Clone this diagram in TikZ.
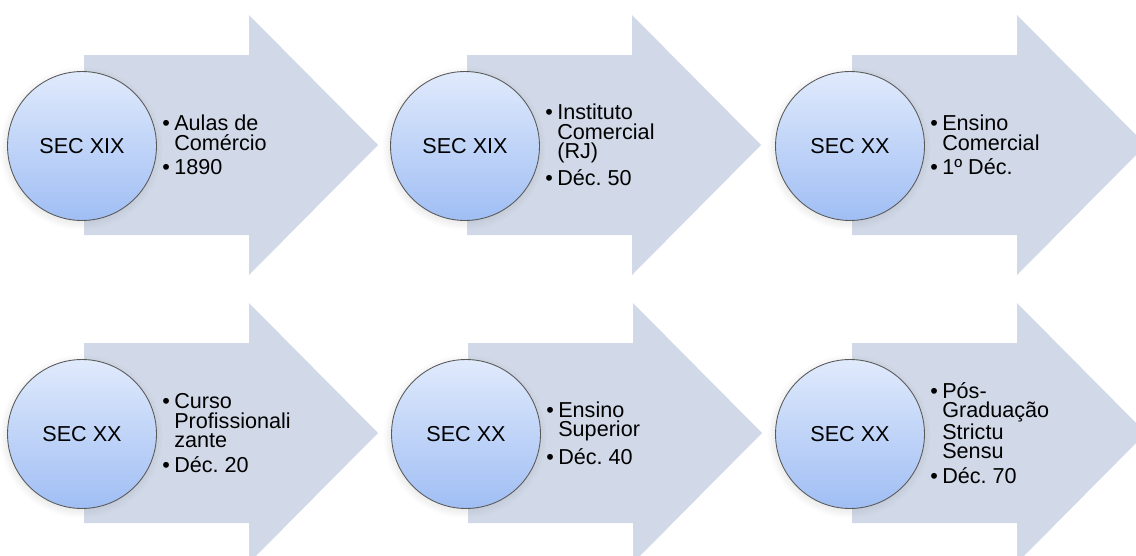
\documentclass[tikz,border=0pt]{standalone}
\usepackage{fontspec}
\setmainfont{Liberation Sans}
\usetikzlibrary{shadows}
\frenchspacing

% Colours of the arrows and circles
\definecolor{arrowfill}{RGB}{209,217,232}
\definecolor{circtop}{RGB}{224,234,252}
\definecolor{circbot}{RGB}{160,190,244}
\definecolor{circline}{RGB}{90,90,90}

% Bullet and hanging indent for the text beside each circle
\newcommand{\bul}{\makebox[6.8pt][l]{\textbullet}}
\newcommand{\ind}{\makebox[6.8pt][l]{}}

\tikzset{
    circ/.style={circle, minimum size=2.98cm, inner sep=0pt, draw=circline, line width=0.5pt,
        top color=circtop, bottom color=circbot,
        circular drop shadow={shadow xshift=-0.6pt, shadow yshift=-1pt, opacity=0.2}},
    bullets/.style={anchor=west, inner sep=0pt, align=left}
}

\begin{document}
\begin{tikzpicture}[x=0.02cm, y=-0.02cm, font=\fontsize{12.3pt}{11pt}\selectfont]
    % Fix the page size
    \useasboundingbox (0,0) rectangle (1136,555);
    \clip (0,0) rectangle (1136,555);

    % Arrows, circles and bullet texts
    \foreach \n/\bx/\cy/\sec/\txt in {
        1/84/145/{SEC XIX}/{\bul Aulas de\\\ind Comércio\\[3pt]\bul 1890},
        2/467/145/{SEC XIX}/{\bul Instituto\\\ind Comercial\\\ind (RJ)\\[3pt]\bul Déc. 50},
        3/852/145/{SEC XX}/{\bul Ensino\\\ind Comercial\\[3pt]\bul 1º Déc.},
        4/84/433/{SEC XX}/{\bul Curso\\\ind Profissionali\\\ind zante\\[3pt]\bul Déc. 20},
        5/468/433/{SEC XX}/{\bul Ensino\\\ind Superior\\[3pt]\bul Déc. 40},
        6/852/433/{SEC XX}/{\bul Pós-\\\ind Graduação\\\ind Strictu\\\ind Sensu\\[3pt]\bul Déc. 70}}
    {
        \fill[arrowfill] (\bx,\cy-90) -- ++(165,0) -- ++(0,-40) -- (\bx+294,\cy)
            -- (\bx+165,\cy+130) -- ++(0,-40) -- (\bx,\cy+90) -- cycle;
        \node[circ] (circ\n) at (\bx-2,\cy+1) {\sec};
        \node[bullets] (txt\n) at (\bx+78,\cy) {\txt};
    }
\end{tikzpicture}
\end{document}
